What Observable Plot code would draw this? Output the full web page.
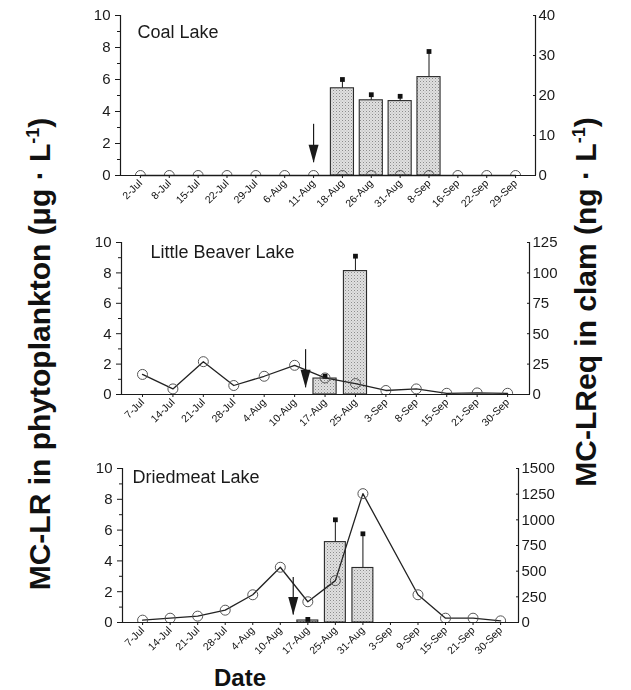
<!DOCTYPE html>
<html><head><meta charset="utf-8">
<script src="https://cdn.jsdelivr.net/npm/d3@7"></script>
<script src="https://cdn.jsdelivr.net/npm/@observablehq/plot@0.6"></script>
<style>
body{margin:0;background:#fff;font-family:"Liberation Sans",Arial,sans-serif;}
#wrap{position:relative;width:631px;height:690px;overflow:hidden;background:#fff;}
.panel{position:absolute;left:0;filter:grayscale(1);}
.ylab{position:absolute;font-weight:bold;white-space:nowrap;color:#111;transform:translate(-50%,-50%) rotate(-90deg);}
.ylab sup{font-size:60%;}
#date{position:absolute;font-weight:bold;font-size:24px;color:#111;transform:translateX(-50%);}
</style></head><body>
<svg width="0" height="0" style="position:absolute"><defs>
<pattern id="stip" width="3" height="3" patternUnits="userSpaceOnUse"><rect width="3" height="3" fill="#e0e0e0"/><rect width="1" height="1" fill="#8c8c8c"/><rect x="1.5" y="1.5" width="1" height="1" fill="#b0b0b0"/></pattern>
</defs></svg>
<div id="wrap"></div>
<script>
// ---- Coal Lake ----
const coalDates = ["2-Jul","8-Jul","15-Jul","22-Jul","29-Jul","6-Aug","11-Aug","18-Aug","26-Aug","31-Aug","8-Sep","16-Sep","22-Sep","29-Sep"];
const coalClam  = [0,0,0,0,0,0,0,0,0,0,0,0,0,0];                  // ng/L (right axis)
const coalPhyto = [null,null,null,null,null,null,null,5.45,4.7,4.65,6.15,null,null,null]; // µg/L (left axis)
const coalErr   = [null,null,null,null,null,null,null,6.0,5.05,4.95,7.75,null,null,null];
const coalRightTicks = [0,10,20,30,40];

// ---- Little Beaver Lake ----
const beaverDates = ["7-Jul","14-Jul","21-Jul","28-Jul","4-Aug","10-Aug","17-Aug","25-Aug","3-Sep","8-Sep","15-Sep","21-Sep","30-Sep"];
const beaverClam  = [16.5,4.6,27,7.4,15,24,13.6,9,3.3,4.6,1,1.3,1];
const beaverPhyto = [null,null,null,null,null,null,1.05,8.12,null,null,null,null,null];
const beaverErr   = [null,null,null,null,null,null,1.2,9.1,null,null,null,null,null];
const beaverRightTicks = [0,25,50,75,100,125];

// ---- Driedmeat Lake ----
const driedDates = ["7-Jul","14-Jul","21-Jul","28-Jul","4-Aug","10-Aug","17-Aug","25-Aug","31-Aug","3-Sep","9-Sep","15-Sep","21-Sep","30-Sep"];
const driedClam  = [23,42,62,120,270,538,202,408,1255,null,270,42,42,16];
const driedPhyto = [null,null,null,null,null,null,0.13,5.22,3.54,null,null,null,null,null];
const driedErr   = [null,null,null,null,null,null,0.2,6.67,5.76,null,null,null,null,null];
const driedRightTicks = [0,250,500,750,1000,1250,1500];

const leftTicks = [0,2,4,6,8,10];
const leftMinor = [1,3,5,7,9];

// arrows: [position in sample index, top value, tip value] (left-axis units)
const coalArrow = [6, 3.2, 0.8];
const beaverArrow = [5.36, 2.95, 0.44];
const driedArrow = [5.47, 2.93, 0.48];

const arrowHead = {draw(ctx){ctx.moveTo(-5,-18);ctx.lineTo(5,-18);ctx.lineTo(0,0);ctx.closePath();}};

function panel(cfg){
  const n = cfg.dates.length;
  const rows = cfg.dates.map((d,i)=>({i, date:d, clam:cfg.clam[i], phyto:cfg.phyto[i], err:cfg.err[i]}));
  const bars = rows.filter(r=>r.phyto!=null);
  const pts = rows.filter(r=>r.clam!=null);
  const f = cfg.rightTicks[cfg.rightTicks.length-1]/10;
  const xd = [-cfg.padL, n-1+cfg.padR];
  const ink = "#1a1a1a";
  const p = Plot.plot({
    width:631, height:cfg.mt+cfg.ph+cfg.mb,
    marginTop:cfg.mt, marginBottom:cfg.mb, marginLeft:cfg.ml, marginRight:cfg.mr,
    style:{fontFamily:"'Liberation Sans', Arial, sans-serif", color:ink, background:"transparent", overflow:"visible"},
    x:{domain:xd, axis:null},
    y:{domain:[0,10], axis:null},
    marks:[
      Plot.rectY(bars,{x1:d=>d.i-cfg.half, x2:d=>d.i+cfg.half, y1:0, y2:"phyto", fill:"url(#stip)", stroke:"#2a2a2a", strokeWidth:1.1}),
      Plot.ruleX(bars,{x:"i", y1:"phyto", y2:"err", stroke:"#2a2a2a", strokeWidth:1.1}),
      Plot.dot(bars,{x:"i", y:"err", symbol:"square", r:2.7, fill:"#111", stroke:"none"}),
      Plot.line(pts,{x:"i", y:d=>d.clam/f, stroke:"#222", strokeWidth:1.3}),
      Plot.dot(pts,{x:"i", y:d=>d.clam/f, r:5, stroke:"#555", strokeWidth:1, fill:"none", clip:true}),
      Plot.ruleX([cfg.arrow],{x:d=>d[0], y1:d=>d[1], y2:d=>d[2], stroke:ink, strokeWidth:1.2}),
      Plot.dot([cfg.arrow],{x:d=>d[0], y:d=>d[2], symbol:arrowHead, fill:ink, stroke:"none"}),
      Plot.ruleY([0],{stroke:ink, strokeWidth:1.2}),
      Plot.ruleX([xd[0]],{stroke:ink, strokeWidth:1.2}),
      Plot.ruleX([xd[1]],{stroke:ink, strokeWidth:1.2}),
      Plot.axisY({anchor:"left", ticks:leftTicks, tickSize:5, tickPadding:5, fontSize:15, label:null, stroke:ink}),
      Plot.axisY({anchor:"left", ticks:leftMinor, tickSize:3, tickFormat:()=>"", label:null, stroke:ink}),
      Plot.axisY({anchor:"right", ticks:cfg.rightTicks.map(v=>v/f), tickFormat:d=>String(Math.round(d*f)), tickSize:-3, tickPadding:6, fontSize:15, label:null, stroke:ink}),
      Plot.axisX({ticks:rows.map(r=>r.i), tickFormat:i=>cfg.dates[i], tickRotate:-45, tickSize:3, tickPadding:3, fontSize:10.5, label:null, stroke:ink, fill:"#111"}),
      Plot.text([cfg.title],{frameAnchor:"top-left", dx:cfg.tdx, dy:cfg.tdy, fontSize:18, textAnchor:"start", lineAnchor:"bottom", fill:ink})
    ]
  });
  const div = document.createElement("div");
  div.className = "panel";
  div.style.top = cfg.top + "px";
  div.appendChild(p);
  document.getElementById("wrap").appendChild(div);
}

panel({title:"Coal Lake", dates:coalDates, clam:coalClam, phyto:coalPhyto, err:coalErr, rightTicks:coalRightTicks, arrow:coalArrow,
  top:0, mt:15, ph:160, mb:42, ml:120, mr:96, padL:0.69, padR:0.69, half:0.4, tdx:17, tdy:22});
panel({title:"Little Beaver Lake", dates:beaverDates, clam:beaverClam, phyto:beaverPhyto, err:beaverErr, rightTicks:beaverRightTicks, arrow:beaverArrow,
  top:227, mt:15, ph:152, mb:42, ml:121, mr:102, padL:0.69, padR:0.72, half:0.38, tdx:29, tdy:15});
panel({title:"Driedmeat Lake", dates:driedDates, clam:driedClam, phyto:driedPhyto, err:driedErr, rightTicks:driedRightTicks, arrow:driedArrow,
  top:453, mt:15, ph:154, mb:42, ml:122, mr:113, padL:0.73, padR:0.65, half:0.38, tdx:10, tdy:14});

const wrap = document.getElementById("wrap");
const l1 = document.createElement("div"); l1.className="ylab"; l1.style.left="40px"; l1.style.top="354px"; l1.style.fontSize="30px";
l1.innerHTML = "MC-LR in phytoplankton (μg · L<sup>-1</sup>)"; wrap.appendChild(l1);
const l2 = document.createElement("div"); l2.className="ylab"; l2.style.left="586px"; l2.style.top="302px"; l2.style.fontSize="30px";
l2.innerHTML = "MC-LReq in clam (ng · L<sup>-1</sup>)"; wrap.appendChild(l2);
const dl = document.createElement("div"); dl.id="date"; dl.style.left="240px"; dl.style.top="664px"; dl.textContent="Date"; wrap.appendChild(dl);
</script>
</body></html>
